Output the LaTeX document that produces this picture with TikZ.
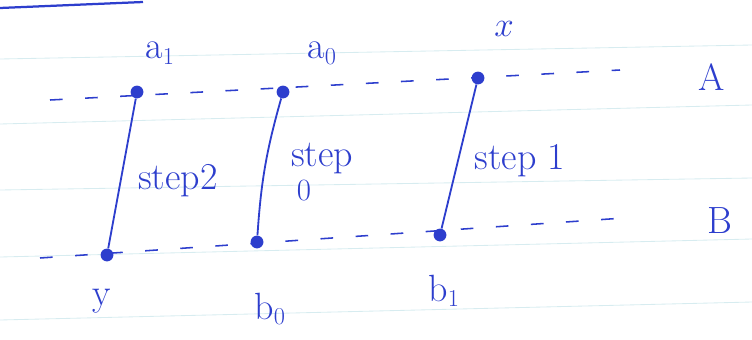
\documentclass[tikz,border=0pt]{standalone}
\usepackage{tikz}
\usetikzlibrary{positioning}
\definecolor{penblue}{RGB}{45,62,205}
\definecolor{ruleblue}{RGB}{215,236,240}
\tikzset{
  pen/.style={draw=penblue, line width=1.3pt},
  dotpt/.style={circle, fill=penblue, inner sep=0pt, minimum size=3.2mm},
  handlabel/.style={text=penblue, font=\fontsize{27}{29}\selectfont},
  dashline/.style={draw=penblue, line width=1.1pt, dash pattern=on 9pt off 16pt},
}
\begin{document}
\begin{tikzpicture}[scale=1.0]
  \useasboundingbox (0,0) rectangle (18.8,8.475);

  % ---- 罫線 ----
  \foreach \l/\r in {7.0/7.35, 5.375/5.85, 3.725/4.025, 2.05/2.5, 0.475/0.925}{%
    \draw[ruleblue, line width=0.6pt] (0,\l) -- (18.8,\r);
  }
  \draw[pen, line width=1.6pt] (0,8.275) -- (3.575,8.425);

  % ---- 点 ----
  \node[dotpt] (a1) at (3.425, 6.175) {};
  \node[dotpt] (a0) at (7.075, 6.175) {};
  \node[dotpt] (x)  at (11.95, 6.525) {};
  \node[dotpt] (y)  at (2.675, 2.1) {};
  \node[dotpt] (b0) at (6.425, 2.425) {};
  \node[dotpt] (b1) at (11.0, 2.6) {};

  % ---- 破線 A, B ----
  \coordinate (Astart) at (1.25, 5.975);
  \coordinate (Aend)   at (15.5, 6.725);
  \coordinate (Bstart) at (1.0, 2.025);
  \coordinate (Bend)   at (15.6, 3.025);
  \draw[dashline] (Astart) -- (Aend);
  \draw[dashline] (Bstart) -- (Bend);

  % ---- ステップ ----
  \draw[pen] (a1) -- (y);
  \draw[pen] (a0) to[bend right=6] (b0);
  \draw[pen] (x) -- (b1);

  % ---- ラベル ----
  \node[handlabel] (la1) at (4.0, 7.15)   {a$_1$};
  \node[handlabel] (la0) at (8.05, 7.15)  {a$_0$};
  \node[handlabel] (lx)  at (12.6, 7.75) {$x$};
  \node[handlabel] (lA)  at (17.8, 6.55) {A};
  \node[handlabel] (lB)  at (18.0, 2.95) {B};
  \node[handlabel] (ly)  at (2.55, 0.95)  {y};
  \node[handlabel] (lb0) at (6.75, 0.75) {b$_0$};
  \node[handlabel] (lb1) at (11.1, 1.2) {b$_1$};
  \node[handlabel] (s2) at (4.45, 3.95) {step2};
  \node[handlabel] (s0) at (8.05, 4.5) {step};
  \node[handlabel, font=\fontsize{22}{24}\selectfont] (s0n) at (7.6, 3.7) {0};
  \node[handlabel] (s1) at (13.0, 4.45) {step 1};
\end{tikzpicture}
\end{document}
